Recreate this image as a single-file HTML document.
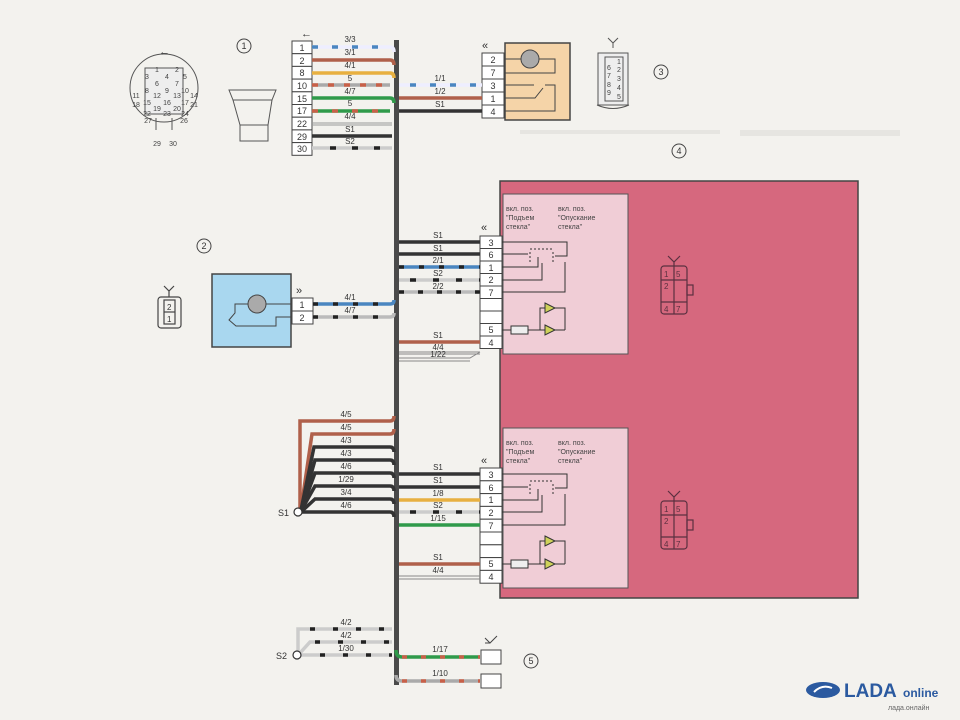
<!DOCTYPE html>
<html><head><meta charset="utf-8"><style>
html,body{margin:0;padding:0;background:#f3f2ee;}
svg{display:block;}
text{font-family:"Liberation Sans","DejaVu Sans",sans-serif;}
</style></head><body>
<svg width="960" height="720" viewBox="0 0 960 720" xmlns="http://www.w3.org/2000/svg">
<rect width="960" height="720" fill="#f3f2ee"/>
<g fill="#e6e5e1">
<rect x="740" y="130" width="160" height="6"/><rect x="520" y="130" width="200" height="4"/>
</g>

<!-- Component 4 pink -->
<rect x="500" y="181" width="358" height="417" fill="#d6687e" stroke="#444" stroke-width="1.5"/>
<rect x="503" y="194" width="125" height="160" fill="#f0cdd6" stroke="#555" stroke-width="1"/>
<rect x="503" y="428" width="125" height="160" fill="#f0cdd6" stroke="#555" stroke-width="1"/>

<!-- Component 3 orange -->
<rect x="505" y="43" width="65" height="77" fill="#f5d4a8" stroke="#444" stroke-width="1.5"/>
<!-- Component 2 blue -->
<rect x="212" y="274" width="79" height="73" fill="#a9d7ef" stroke="#444" stroke-width="1.5"/>

<!-- Trunk -->
<rect x="394" y="40" width="5" height="645" fill="#4a4a4a"/>

<!-- ===== Connector 1 pins ===== -->
<g stroke="#444" stroke-width="1" fill="#fff">
<rect x="292" y="41" width="20" height="12.7"/><rect x="292" y="53.7" width="20" height="12.7"/><rect x="292" y="66.4" width="20" height="12.7"/><rect x="292" y="79.1" width="20" height="12.7"/><rect x="292" y="91.8" width="20" height="12.7"/><rect x="292" y="104.5" width="20" height="12.7"/><rect x="292" y="117.2" width="20" height="12.7"/><rect x="292" y="129.9" width="20" height="12.7"/><rect x="292" y="142.6" width="20" height="12.7"/>
</g>
<g font-size="9" fill="#333" text-anchor="middle">
<text x="302" y="51">1</text><text x="302" y="64">2</text><text x="302" y="76">8</text><text x="302" y="89">10</text><text x="302" y="102">15</text><text x="302" y="114">17</text><text x="302" y="127">22</text><text x="302" y="140">29</text><text x="302" y="152">30</text>
</g>
<text x="301" y="37" font-size="11" fill="#333">&#8592;</text>
<g stroke-width="3.5" fill="none">
<path d="M312 47 H390 Q394 47 394 52" stroke="#eef"/>
<path d="M312 47 H390" stroke="#4a86c0" stroke-dasharray="6 14"/>
<path d="M312 60 H390 Q394 60 394 65" stroke="#b0604a"/>
<path d="M312 73 H390 Q394 73 394 78" stroke="#e8b040"/>
<path d="M312 85 H390" stroke="#aaa"/><path d="M312 85 H390" stroke="#c86048" stroke-dasharray="6 10"/>
<path d="M312 98 H390 Q394 98 394 103" stroke="#2f9a4a"/>
<path d="M312 111 H390" stroke="#2f9a4a"/><path d="M312 111 H390" stroke="#c86048" stroke-dasharray="6 14"/>
<path d="M312 123 H392" stroke="#999" stroke-width="1"/><path d="M312 125 H392" stroke="#999" stroke-width="1"/>
<path d="M312 136 H392" stroke="#333"/>
<path d="M312 148 H392" stroke="#ccc"/><path d="M330 148 H392" stroke="#222" stroke-dasharray="6 16"/>
</g>
<g font-size="8" fill="#333" text-anchor="middle">
<text x="350" y="42">3/3</text><text x="350" y="55">3/1</text><text x="350" y="68">4/1</text><text x="350" y="81">5</text><text x="350" y="94">4/7</text><text x="350" y="106">5</text><text x="350" y="119">4/4</text><text x="350" y="132">S1</text><text x="350" y="144">S2</text>
</g>

<!-- ===== Component 3 pins ===== -->
<g stroke="#444" stroke-width="1" fill="#fff">
<rect x="482" y="53" width="22" height="13"/><rect x="482" y="66" width="22" height="13"/><rect x="482" y="79" width="22" height="13"/><rect x="482" y="92" width="22" height="13"/><rect x="482" y="105" width="22" height="13"/>
</g>
<g font-size="9" fill="#333" text-anchor="middle">
<text x="493" y="63">2</text><text x="493" y="76">7</text><text x="493" y="89">3</text><text x="493" y="102">1</text><text x="493" y="115">4</text>
</g>
<text x="482" y="49" font-size="11" fill="#333">&#171;</text>
<g fill="none" stroke="#444" stroke-width="1">
<circle cx="530" cy="59" r="9" fill="#aaa"/>
<path d="M504 59 H521 M539 59 H555 V73 H504 M504 85 H534 M504 98 H535 L543 88 M504 111 H555 V85 H545"/>
</g>
<g stroke-width="3.5" fill="none">
<path d="M399 85 H482" stroke="#eef"/><path d="M410 85 H482" stroke="#4a86c0" stroke-dasharray="6 14"/>
<path d="M399 98 H482" stroke="#b0604a"/>
<path d="M399 111 H482" stroke="#333"/>
</g>
<g font-size="8" fill="#333" text-anchor="middle">
<text x="440" y="81">1/1</text><text x="440" y="94">1/2</text><text x="440" y="107">S1</text>
</g>

<!-- ===== Component 4 top pins ===== -->
<g stroke="#444" stroke-width="1" fill="#fff">
<rect x="480" y="236" width="22" height="12.5"/><rect x="480" y="248.5" width="22" height="12.5"/><rect x="480" y="261" width="22" height="12.5"/><rect x="480" y="273.5" width="22" height="12.5"/><rect x="480" y="286" width="22" height="12.5"/><rect x="480" y="298.5" width="22" height="12.5"/><rect x="480" y="311" width="22" height="12.5"/><rect x="480" y="323.5" width="22" height="12.5"/><rect x="480" y="336" width="22" height="12.5"/>
</g>
<g font-size="9" fill="#333" text-anchor="middle">
<text x="491" y="246">3</text><text x="491" y="258">6</text><text x="491" y="271">1</text><text x="491" y="283">2</text><text x="491" y="296">7</text><text x="491" y="333">5</text><text x="491" y="346">4</text>
</g>
<text x="481" y="231" font-size="11" fill="#333">&#171;</text>
<g stroke-width="3.5" fill="none">
<path d="M399 242 H480" stroke="#333"/>
<path d="M399 254 H480" stroke="#333"/>
<path d="M399 267 H480" stroke="#4a86c0"/><path d="M399 267 H480" stroke="#222" stroke-dasharray="5 15"/>
<path d="M399 280 H480" stroke="#ccc"/><path d="M410 280 H480" stroke="#222" stroke-dasharray="6 17"/>
<path d="M399 292 H480" stroke="#bbb"/><path d="M399 292 H480" stroke="#222" stroke-dasharray="5 14"/>
<path d="M399 342 H480" stroke="#b0604a"/>
</g>
<g stroke="#888" stroke-width="1" fill="none">
<path d="M399 352 H480 M399 354 H480 M399 358 H470 L480 352 M399 361 H470"/>
</g>
<g font-size="8" fill="#333" text-anchor="middle">
<text x="438" y="238">S1</text><text x="438" y="251">S1</text><text x="438" y="263">2/1</text><text x="438" y="276">S2</text><text x="438" y="289">2/2</text><text x="438" y="338">S1</text><text x="438" y="350">4/4</text><text x="438" y="357">1/22</text>
</g>
<g font-size="7" fill="#444">
<text x="506" y="211">вкл. поз.</text><text x="506" y="220">"Подъем</text><text x="506" y="229">стекла"</text>
<text x="558" y="211">вкл. поз.</text><text x="558" y="220">"Опускание</text><text x="558" y="229">стекла"</text>
</g>
<g fill="none" stroke="#333" stroke-width="1">
<path d="M502 242 H567 V256 H555 M502 254 H528 M502 267 H538 V257 M502 280 H542 V263 M502 292 H565 V262"/>
<path d="M530 252 V264 M553 252 V264 M530 249 H553" stroke-dasharray="2 2"/>
<rect x="511" y="326" width="17" height="8" fill="#eee"/>
<path d="M502 330 H511 M528 330 H565 M540 330 V308 H565 V330"/>
<polygon points="545,303 555,308 545,313" fill="#cfd25a"/><polygon points="545,325 555,330 545,335" fill="#cfd25a"/>
</g>

<!-- ===== Component 4 bottom pins ===== -->
<g stroke="#444" stroke-width="1" fill="#fff">
<rect x="480" y="468" width="22" height="12.8"/><rect x="480" y="480.8" width="22" height="12.8"/><rect x="480" y="493.6" width="22" height="12.8"/><rect x="480" y="506.4" width="22" height="12.8"/><rect x="480" y="519.2" width="22" height="12.8"/><rect x="480" y="532" width="22" height="12.8"/><rect x="480" y="544.8" width="22" height="12.8"/><rect x="480" y="557.6" width="22" height="12.8"/><rect x="480" y="570.4" width="22" height="12.8"/>
</g>
<g font-size="9" fill="#333" text-anchor="middle">
<text x="491" y="478">3</text><text x="491" y="491">6</text><text x="491" y="503">1</text><text x="491" y="516">2</text><text x="491" y="529">7</text><text x="491" y="567">5</text><text x="491" y="580">4</text>
</g>
<text x="481" y="464" font-size="11" fill="#333">&#171;</text>
<g stroke-width="3.5" fill="none">
<path d="M399 474 H480" stroke="#333"/>
<path d="M399 487 H480" stroke="#333"/>
<path d="M399 500 H480" stroke="#e8b040"/>
<path d="M399 512 H480" stroke="#ccc"/><path d="M410 512 H480" stroke="#222" stroke-dasharray="6 17"/>
<path d="M399 525 H480" stroke="#2f9a4a"/>
<path d="M399 564 H480" stroke="#b0604a"/>
</g>
<path d="M399 576 H480 M399 579 H480" stroke="#888" stroke-width="1"/>
<g font-size="8" fill="#333" text-anchor="middle">
<text x="438" y="470">S1</text><text x="438" y="483">S1</text><text x="438" y="496">1/8</text><text x="438" y="508">S2</text><text x="438" y="521">1/15</text><text x="438" y="560">S1</text><text x="438" y="573">4/4</text>
</g>
<g font-size="7" fill="#444">
<text x="506" y="445">вкл. поз.</text><text x="506" y="454">"Подъем</text><text x="506" y="463">стекла"</text>
<text x="558" y="445">вкл. поз.</text><text x="558" y="454">"Опускание</text><text x="558" y="463">стекла"</text>
</g>
<g fill="none" stroke="#333" stroke-width="1">
<path d="M502 474 H567 V488 H555 M502 487 H528 M502 500 H538 V489 M502 512 H542 V495 M502 525 H565 V494"/>
<path d="M530 484 V496 M553 484 V496 M530 481 H553" stroke-dasharray="2 2"/>
<rect x="511" y="560" width="17" height="8" fill="#eee"/>
<path d="M502 564 H511 M528 564 H565 M540 564 V541 H565 V564"/>
<polygon points="545,536 555,541 545,546" fill="#cfd25a"/><polygon points="545,559 555,564 545,569" fill="#cfd25a"/>
</g>

<!-- connector icons in pink -->
<g fill="none" stroke="#5a3040" stroke-width="1.2">
<rect x="661" y="266" width="26" height="48" rx="3"/><path d="M674 266 V314 M661 280 H687 M661 302 H687"/>
<path d="M668 256 L674 262 L680 256 M674 262 V266"/>
<rect x="687" y="285" width="6" height="10"/>
<rect x="661" y="501" width="26" height="48" rx="3"/><path d="M674 501 V549 M661 515 H687 M661 537 H687"/>
<path d="M668 491 L674 497 L680 491 M674 497 V501"/>
<rect x="687" y="520" width="6" height="10"/>
</g>
<g font-size="8" fill="#5a3040"><text x="664" y="277">1</text><text x="676" y="277">5</text><text x="664" y="289">2</text><text x="664" y="312">4</text><text x="676" y="312">7</text>
<text x="664" y="512">1</text><text x="676" y="512">5</text><text x="664" y="524">2</text><text x="664" y="547">4</text><text x="676" y="547">7</text></g>

<!-- ===== Component 2 ===== -->
<g stroke="#444" stroke-width="1" fill="#fff">
<rect x="292" y="298" width="21" height="13"/><rect x="292" y="311" width="21" height="13"/>
</g>
<g font-size="9" fill="#333" text-anchor="middle"><text x="302" y="308">1</text><text x="302" y="321">2</text></g>
<text x="296" y="294" font-size="11" fill="#333">&#187;</text>
<g fill="none" stroke="#444" stroke-width="1">
<circle cx="257" cy="304" r="9" fill="#aaa"/>
<path d="M292 304 H266 M248 304 H235 V313 L229 320 L236 326 H276 V317 H292"/>
</g>
<g stroke-width="3.5" fill="none">
<path d="M313 304 H390 Q394 304 394 300" stroke="#4a86c0"/><path d="M313 304 H390" stroke="#222" stroke-dasharray="5 15"/>
<path d="M313 317 H390 Q394 317 394 313" stroke="#bbb"/><path d="M313 317 H390" stroke="#222" stroke-dasharray="5 15"/>
</g>
<g font-size="8" fill="#333" text-anchor="middle"><text x="350" y="300">4/1</text><text x="350" y="313">4/7</text></g>
<g fill="none" stroke="#444" stroke-width="1.2">
<rect x="158" y="297" width="23" height="31" rx="3"/><rect x="164" y="300" width="11" height="24"/><path d="M164 312 H175"/>
<path d="M164 286 L169 291 L174 286 M169 291 V297"/>
</g>
<g font-size="8" fill="#333"><text x="167" y="310">2</text><text x="167" y="322">1</text></g>

<!-- ===== S1 fan ===== -->
<g stroke-width="3.5" fill="none">
<path d="M300 509 L300 421 H390 Q394 421 394 416" stroke="#b0604a"/>
<path d="M301 509 L312 434 H390 Q394 434 394 429" stroke="#b0604a"/>
<path d="M301 510 L314 447 H390 Q394 447 394 452" stroke="#333"/>
<path d="M301 510 L315 460 H390 Q394 460 394 465" stroke="#333"/>
<path d="M301 511 L315 473 H390 Q394 473 394 478" stroke="#333"/>
<path d="M301 511 L315 486 H390 Q394 486 394 491" stroke="#333"/>
<path d="M301 512 L315 499 H390 Q394 499 394 504" stroke="#333"/>
<path d="M301 512 H390 Q394 512 394 517" stroke="#333"/>
</g>
<circle cx="298" cy="512" r="4" fill="#fff" stroke="#333" stroke-width="1.2"/>
<text x="278" y="516" font-size="9" fill="#333">S1</text>
<g font-size="8" fill="#333" text-anchor="middle">
<text x="346" y="417">4/5</text><text x="346" y="430">4/5</text><text x="346" y="443">4/3</text><text x="346" y="456">4/3</text><text x="346" y="469">4/6</text><text x="346" y="482">1/29</text><text x="346" y="495">3/4</text><text x="346" y="508">4/6</text>
</g>

<!-- ===== S2 & component 5 ===== -->
<g stroke-width="3.5" fill="none">
<path d="M298 655 V629 H392" stroke="#ccc"/><path d="M310 629 H392" stroke="#222" stroke-dasharray="5 18"/>
<path d="M300 653 L310 642 H392" stroke="#ccc"/><path d="M315 642 H392" stroke="#222" stroke-dasharray="5 18"/>
<path d="M300 655 H392" stroke="#ccc"/><path d="M320 655 H392" stroke="#222" stroke-dasharray="5 18"/>
</g>
<circle cx="297" cy="655" r="4" fill="#fff" stroke="#333" stroke-width="1.2"/>
<text x="276" y="659" font-size="9" fill="#333">S2</text>
<g font-size="8" fill="#333" text-anchor="middle"><text x="346" y="625">4/2</text><text x="346" y="638">4/2</text><text x="346" y="651">1/30</text></g>
<g stroke-width="3.5" fill="none">
<path d="M396 650 Q396 657 402 657 H480" stroke="#2f9a4a"/><path d="M402 657 H480" stroke="#c86048" stroke-dasharray="5 14"/>
<path d="M396 675 Q396 681 402 681 H480" stroke="#aaa"/><path d="M402 681 H480" stroke="#c86048" stroke-dasharray="5 14"/>
</g>
<g font-size="8" fill="#333" text-anchor="middle"><text x="440" y="652">1/17</text><text x="440" y="676">1/10</text></g>
<g fill="#fff" stroke="#444" stroke-width="1"><rect x="481" y="650" width="20" height="14"/><rect x="481" y="674" width="20" height="14"/></g>
<path d="M485 638 L490 643 L497 636 M490 643 H485" fill="none" stroke="#444" stroke-width="1"/>

<!-- Connector 1 face & cap -->
<g fill="none" stroke="#555" stroke-width="1">
<circle cx="164" cy="88" r="34"/>
<rect x="145" y="68" width="38" height="46" fill="#eee"/>
<path d="M156 118 V130 M172 118 V130"/>
<path d="M229 90 H276 L272 100 H233 Z"/>
<path d="M233 100 L240 125 H268 L272 100"/><path d="M240 125 V141 H268 V125"/>
</g>
<g font-size="7" fill="#444" text-anchor="middle">
<text x="157" y="72">1</text><text x="177" y="72">2</text><text x="147" y="79">3</text><text x="167" y="79">4</text><text x="185" y="79">5</text>
<text x="157" y="86">6</text><text x="177" y="86">7</text><text x="147" y="93">8</text><text x="167" y="93">9</text><text x="185" y="93">10</text>
<text x="136" y="98">11</text><text x="157" y="98">12</text><text x="177" y="98">13</text><text x="194" y="98">14</text>
<text x="147" y="105">15</text><text x="167" y="105">16</text><text x="185" y="105">17</text>
<text x="136" y="107">18</text><text x="157" y="111">19</text><text x="177" y="111">20</text><text x="194" y="107">21</text>
<text x="147" y="116">22</text><text x="167" y="116">23</text><text x="185" y="116">24</text>
<text x="148" y="123">27</text><text x="184" y="123">26</text>
<text x="157" y="146">29</text><text x="173" y="146">30</text>
</g>
<text x="159" y="55" font-size="11" fill="#444">&#8592;</text>

<!-- Connector 3 icon -->
<g fill="none" stroke="#555" stroke-width="1">
<rect x="598" y="53" width="30" height="52" fill="#eee"/><rect x="605" y="57" width="18" height="44"/>
<path d="M597 105 Q613 112 629 105"/>
<path d="M608 38 L613 43 L618 38 M613 43 V48"/>
</g>
<g font-size="7" fill="#444"><text x="617" y="64">1</text><text x="607" y="70">6</text><text x="617" y="72">2</text><text x="607" y="78">7</text><text x="617" y="81">3</text><text x="607" y="87">8</text><text x="617" y="90">4</text><text x="607" y="95">9</text><text x="617" y="99">5</text></g>

<!-- number circles -->
<g fill="none" stroke="#444" stroke-width="1">
<circle cx="244" cy="46" r="7"/><circle cx="204" cy="246" r="7"/><circle cx="661" cy="72" r="7"/><circle cx="679" cy="151" r="7"/><circle cx="531" cy="661" r="7"/>
</g>
<g font-size="9" fill="#333" text-anchor="middle">
<text x="244" y="49">1</text><text x="204" y="249">2</text><text x="661" y="75">3</text><text x="679" y="154">4</text><text x="531" y="664">5</text>
</g>

<!-- LADA logo -->
<ellipse cx="823" cy="690" rx="17" ry="8" fill="#2b5aa0"/>
<path d="M814 692 Q822 684 832 688" stroke="#fff" stroke-width="2" fill="none"/>
<text x="844" y="697" font-size="19" font-weight="bold" fill="#2b5aa0">LADA</text>
<text x="903" y="697" font-size="12" font-weight="bold" fill="#2b5aa0">online</text>
<text x="888" y="710" font-size="7" fill="#666">лада.онлайн</text>
</svg>
</body></html>
